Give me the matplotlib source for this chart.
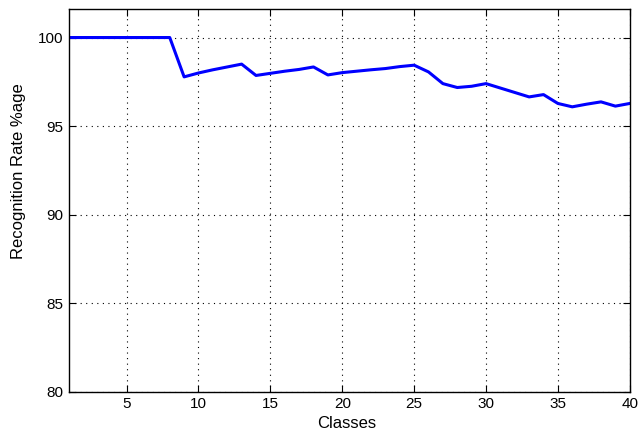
import matplotlib
matplotlib.use("Agg")
import matplotlib.pyplot as plt

classes = list(range(1, 41))
rates = [100, 100, 100, 100, 100, 100, 100, 100,
         97.78, 98.0, 98.18, 98.34, 98.5,
         97.86, 97.98, 98.1, 98.2, 98.34,
         97.89, 98.02, 98.1, 98.18, 98.25, 98.36, 98.44,
         98.06, 97.4, 97.18, 97.25, 97.4,
         97.15, 96.9, 96.65, 96.78, 96.28,
         96.09, 96.24, 96.37, 96.13, 96.28]
xticks = [5, 10, 15, 20, 25, 30, 35, 40]
yticks = [80, 85, 90, 95, 100]

plt.rcParams['font.family'] = ['Liberation Sans', 'DejaVu Sans']
fig = plt.figure(figsize=(6.4, 4.37), dpi=100)
ax = fig.add_axes([0.108, 0.103, 0.876, 0.876])
ax.plot(classes, rates, color='#0000ff', linewidth=2.2)
ax.set_xlim(1, 40)
ax.set_ylim(80, 101.6)
ax.set_xticks(xticks)
ax.set_yticks(yticks)
ax.grid(True, linestyle=(0, (1, 4)), color='black', linewidth=0.8)
ax.tick_params(direction='in', top=True, right=True, length=5, labelsize=11)
ax.tick_params(axis='y', pad=4)
for s in ax.spines.values():
    s.set_linewidth(1)
ax.set_xlabel('Classes', fontsize=12)
ax.set_ylabel('Recognition Rate %age', fontsize=12)
ax.xaxis.set_label_coords(0.495, -0.063)
ax.yaxis.set_label_coords(-0.077, 0.577)
fig.savefig('out.png', dpi=100)
